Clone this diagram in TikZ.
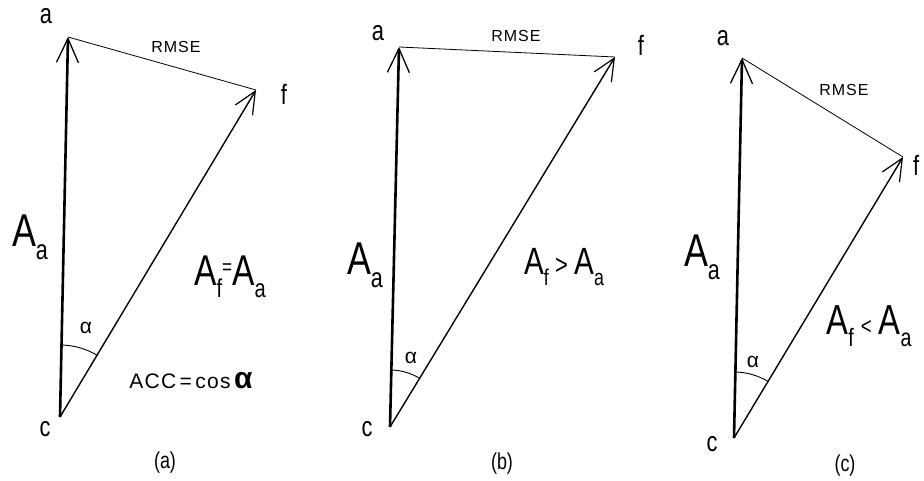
\documentclass[tikz,border=0pt]{standalone}
\usepackage{fontspec}
\setmainfont{Liberation Sans}
\newfontfamily\hand[FakeStretch=0.78]{Liberation Sans}
\newfontfamily\handsp[LetterSpace=6]{Liberation Sans}
\usetikzlibrary{arrows.meta,angles}
\newcommand\lowsub[1]{\raisebox{-0.28em}{\scalebox{0.6}{#1}}}
\begin{document}
\begin{tikzpicture}[x=1pt,y=1pt,
  amp/.style={line width=2.6pt,-{Straight Barb[length=24pt,width=22pt,line width=1.3pt]}},
  fvec/.style={line width=1.4pt,-{Straight Barb[length=22pt,width=20pt,line width=1.2pt]}},
  errline/.style={line width=0.8pt},
  angarc/.style={draw,line width=0.9pt},
  ptlab/.style={font=\hand\fontsize{28}{28}\selectfont,inner sep=0pt},
  rmselab/.style={font=\handsp\fontsize{16}{16}\selectfont,inner sep=0pt},
  biglab/.style={font=\hand\fontsize{46}{46}\selectfont,inner sep=0pt},
  alab/.style={font=\fontsize{21}{21}\selectfont,inner sep=0pt},
  acclab/.style={font=\handsp\fontsize{21}{21}\selectfont,inner sep=0pt},
  caplab/.style={font=\hand\fontsize{23}{23}\selectfont,inner sep=0pt}]
\useasboundingbox (0,0) rectangle (924,481);
% ---------- panel (a)
\coordinate (cA) at (60,64);
\coordinate (aA) at (68,444);
\coordinate (fA) at (256,391);
\draw[amp] (cA) -- (aA);
\draw[fvec] (cA) -- (fA);
\draw[errline] (aA) -- (fA);
\pic[angarc,angle radius=72pt] {angle=fA--cA--aA};
\node[ptlab] (laA) at (46,465) {a};
\node[ptlab] (lfA) at (284,387) {f};
\node[ptlab] (lcA) at (45,52) {c};
\node[rmselab] (rA) at (176,434) {RMSE};
\node[biglab] (AaA) at (30,244) {A\lowsub{a}};
\node[biglab,font=\hand\fontsize{43}{43}\selectfont] (AfA) at (230,204) {A\lowsub{f}{\fontsize{22}{22}\selectfont\raisebox{0.5em}{=}}A\lowsub{a}};
\node[alab] (alA) at (86,153) {α};
\node[acclab] (accA) at (191,100) {ACC\,=\,cos\,{\fontsize{30}{30}\selectfont\bfseries α}};
\node[caplab] (capA) at (165,18) {(a)};
% ---------- panel (b)
\coordinate (cB) at (390,54);
\coordinate (aB) at (399,434);
\coordinate (fB) at (615,424);
\draw[amp] (cB) -- (aB);
\draw[fvec] (cB) -- (fB);
\draw[errline] (aB) -- (fB);
\pic[angarc,angle radius=57pt] {angle=fB--cB--aB};
\node[ptlab] (laB) at (378,448) {a};
\node[ptlab] (lfB) at (641,436) {f};
\node[ptlab] (lcB) at (367,52) {c};
\node[rmselab] (rB) at (516,445) {RMSE};
\node[biglab] (AaB) at (365,216) {A\lowsub{a}};
\node[biglab,font=\hand\fontsize{38}{38}\selectfont] (AfB) at (564,214) {A\lowsub{f}\,{\fontsize{28}{28}\selectfont >}\,A\lowsub{a}};
\node[alab] (alB) at (411,123) {α};
\node[caplab] (capB) at (502,17) {(b)};
% ---------- panel (c)
\coordinate (cC) at (734,43);
\coordinate (aC) at (742,423);
\coordinate (fC) at (903,324);
\draw[amp] (cC) -- (aC);
\draw[fvec] (cC) -- (fC);
\draw[errline] (aC) -- (fC);
\pic[angarc,angle radius=66pt] {angle=fC--cC--aC};
\node[ptlab] (laC) at (723,443) {a};
\node[ptlab,anchor=west] (lfC) at (913,316) {f};
\node[ptlab] (lcC) at (712,37) {c};
\node[rmselab] (rC) at (844,391) {RMSE};
\node[biglab] (AaC) at (702,224) {A\lowsub{a}};
\node[biglab,font=\hand\fontsize{42}{42}\selectfont] (AfC) at (869,155) {A\lowsub{f}\,{\fontsize{24}{24}\selectfont <}\,A\lowsub{a}};
\node[alab] (alC) at (753,119) {α};
\node[caplab] (capC) at (845,15) {(c)};
\end{tikzpicture}
\end{document}
